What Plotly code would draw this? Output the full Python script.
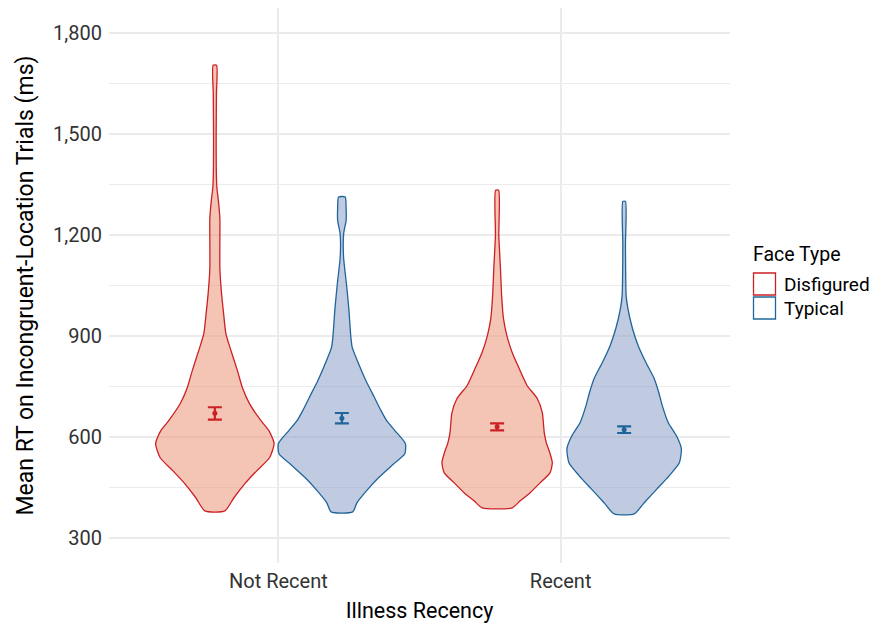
import plotly.graph_objects as go

# ---------------- data ----------------
recency = ["Not Recent", "Recent"]
face_types = ["Disfigured", "Typical"]

# violin outlines: RT values (ms) and relative half-widths (density)
nr_dis_y = [380, 419, 461, 499, 538, 580, 618, 648, 699, 746, 797, 857, 907, 967, 1026,
            1100, 1180, 1250, 1303, 1342, 1400, 1500, 1621, 1705]
nr_dis_w = [10, 19, 30, 41.7, 54.5, 59, 54, 46, 34.5, 27.5, 22.5, 16, 11, 8.7, 6.7,
            5, 5, 5, 3.5, 2, 1.4, 1.3, 1.6, 1.7]

nr_typ_y = [377, 404, 440, 479, 520, 550, 580, 618, 648, 678, 717, 767, 827, 866, 895,
            985, 1056, 1133, 1205, 1243, 1282, 1313]
nr_typ_w = [10.8, 15, 24.7, 36.7, 51.7, 62.7, 63.3, 53, 44.7, 39, 32.5, 24, 15.3, 10.3, 9,
            6.8, 4.5, 1.7, 1.8, 4.2, 4.2, 3.3]

r_dis_y = [389, 410, 434, 464, 493, 523, 553, 583, 612, 672, 714, 752, 803, 851, 901,
           952, 1020, 1101, 1199, 1333]
r_dis_w = [15, 23, 33, 43, 52.7, 55, 52.5, 49, 47, 45, 40, 30, 22, 15, 9.7,
           6.3, 4.5, 3.3, 1.7, 1.5]

r_typ_y = [371, 404, 446, 485, 523, 565, 604, 642, 693, 732, 773, 821, 871, 922, 982,
           1020, 1169, 1300]
r_typ_w = [10, 20, 33, 45, 55, 57, 52, 44, 38, 34.5, 30, 21.7, 14, 8.3, 3.7,
           2, 1.3, 1.3]

# means with error bars (ms)
mean_dis = [670, 630]
upper_dis = [688, 640]
lower_dis = [651, 619]
mean_typ = [655.5, 621]
upper_typ = [671, 631]
lower_typ = [640, 611.5]

y_ticks = [300, 600, 900, 1200, 1500, 1800]

# ---------------- styling ----------------
FONT = "Roboto, 'Liberation Sans', sans-serif"
LINE = {"Disfigured": "#CB2026", "Typical": "#1F659B"}
FILL = {"Disfigured": "rgba(235,150,118,0.55)", "Typical": "rgba(140,160,200,0.55)"}
DODGE = 0.225
MAXW = 0.225

all_w = nr_dis_w + nr_typ_w + r_dis_w + r_typ_w
wmax = max(all_w)

fig = go.Figure()

violins = [
    (0, "Disfigured", nr_dis_y, nr_dis_w),
    (0, "Typical", nr_typ_y, nr_typ_w),
    (1, "Disfigured", r_dis_y, r_dis_w),
    (1, "Typical", r_typ_y, r_typ_w),
]
for gi, ft, ys, ws in violins:
    c = gi + 1 + (-DODGE if ft == "Disfigured" else DODGE)
    hw = [w / wmax * MAXW for w in ws]
    xs = [c + h for h in hw] + [c - h for h in reversed(hw)] + [c + hw[0]]
    yy = list(ys) + list(reversed(ys)) + [ys[0]]
    fig.add_trace(go.Scatter(
        x=xs, y=yy, mode="lines", fill="toself",
        fillcolor=FILL[ft], line=dict(color=LINE[ft], width=1.3, shape="spline", smoothing=0.6),
        showlegend=False, hoverinfo="skip", name=ft))

for ft, m, up, lo, off in [("Disfigured", mean_dis, upper_dis, lower_dis, -DODGE),
                           ("Typical", mean_typ, upper_typ, lower_typ, DODGE)]:
    fig.add_trace(go.Scatter(
        x=[i + 1 + off for i in range(len(recency))], y=m, mode="markers",
        marker=dict(color=LINE[ft], size=5),
        error_y=dict(type="data", symmetric=False,
                     array=[u - v for u, v in zip(up, m)],
                     arrayminus=[v - l for v, l in zip(m, lo)],
                     width=7, thickness=2.2, color=LINE[ft]),
        showlegend=False, name=ft))

# ---------------- layout ----------------
grid = "#EBEBEB"
fig.update_layout(
    width=876, height=626,
    margin=dict(l=109, r=146, t=8, b=63),
    paper_bgcolor="white", plot_bgcolor="white",
    font=dict(family=FONT, size=20, color="#000000"),
    showlegend=False,
    xaxis=dict(range=[0.4, 2.6], tickvals=[1, 2], ticktext=recency, automargin=False,
               showgrid=True, gridcolor=grid, gridwidth=2, zeroline=False,
               showline=False, ticks="", tickfont=dict(size=20, color="#333333"),
               ticklabelstandoff=4,
               title=dict(text="Illness Recency", font=dict(size=21.5), standoff=10)),
    yaxis=dict(range=[225, 1875], tickvals=y_ticks, tickformat=",", automargin=False,
               showgrid=True, gridcolor=grid, gridwidth=2, zeroline=False,
               showline=False, ticks="", tickfont=dict(size=20, color="#333333"),
               ticklabelstandoff=6,
               minor=dict(dtick=150, tick0=0, showgrid=True, gridcolor=grid, gridwidth=1),
               title=dict(text="Mean RT on Incongruent-Location Trials (ms)",
                          font=dict(size=23), standoff=13)),
)

# legend drawn in paper coordinates
def px_x(p):
    return (p - 109) / 621.0

def px_y(p):
    return (563 - p) / 555.0

fig.add_annotation(x=px_x(751), y=px_y(254), xref="paper", yref="paper", text="Face Type",
                   showarrow=False, xanchor="left", yanchor="middle", font=dict(size=19.5))
for i, ft in enumerate(face_types):
    top = 273 + i * 24
    fig.add_shape(type="rect", xref="paper", yref="paper",
                  x0=px_x(753.5), x1=px_x(775.5), y0=px_y(top + 22), y1=px_y(top),
                  line=dict(color=LINE[ft], width=1.3), fillcolor="white")
    fig.add_annotation(x=px_x(782), y=px_y(top + 11), xref="paper", yref="paper", text=ft,
                       showarrow=False, xanchor="left", yanchor="middle", font=dict(size=19))

fig.write_html("out.html", config={"displayModeBar": False},
               post_script="document.body.style.margin='0';")
